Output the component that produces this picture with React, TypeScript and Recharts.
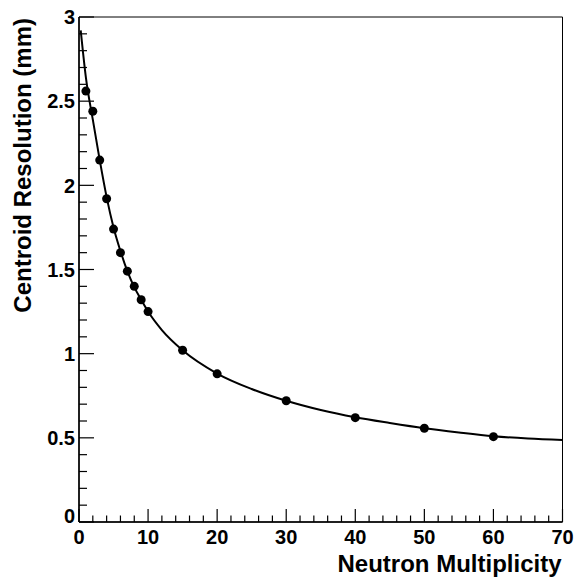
import React from 'react';
import { ComposedChart, Line, Scatter, XAxis, YAxis, ReferenceArea } from 'recharts';

document.body.style.margin = '0';

// measured points
const multiplicity = [1, 2, 3, 4, 5, 6, 7, 8, 9, 10, 15, 20, 30, 40, 50, 60];
const resolution = [2.56, 2.44, 2.15, 1.92, 1.74, 1.6, 1.49, 1.4, 1.32, 1.25, 1.02, 0.88, 0.72, 0.62, 0.557, 0.507];

// fitted curve
const fitX = [0.25, 1, 2, 3, 4, 5, 6, 7, 8, 9, 10, 12, 15, 20, 25, 30, 35, 40, 45, 50, 55, 60, 65, 70];
const fitY = [2.92, 2.64, 2.39, 2.15, 1.93, 1.75, 1.61, 1.49, 1.395, 1.32, 1.25, 1.14, 1.02, 0.882, 0.79, 0.72, 0.665, 0.622, 0.588, 0.557, 0.532, 0.51, 0.496, 0.487];

const xMajorTicks = [0, 10, 20, 30, 40, 50, 60, 70];
const yMajorTicks = [0, 0.5, 1, 1.5, 2, 2.5, 3];

const xTitle = 'Neutron Multiplicity';
const yTitle = 'Centroid Resolution (mm)';

const W = 576;
const H = 579;
const LEFT = 79;
const RIGHT = 562.5;
const TOP = 17;
const BOTTOM = 522;
const FONT = '"Liberation Sans", Arial, Helvetica, sans-serif';

// minor ticks: 5 divisions between x majors, 5 between y majors
const xTicks: number[] = [];
xMajorTicks.forEach((t, i) => {
  if (i === xMajorTicks.length - 1) { xTicks.push(t); return; }
  for (let k = 0; k < 5; k++) xTicks.push(t + k * 2);
});
const yTicks: number[] = [];
yMajorTicks.forEach((t, i) => {
  if (i === yMajorTicks.length - 1) { yTicks.push(t); return; }
  for (let k = 0; k < 5; k++) yTicks.push(Math.round((t + k * 0.1) * 10) / 10);
});

const points = multiplicity.map((x, i) => ({ x, y: resolution[i] }));
const fit = fitX.map((x, i) => ({ x, y: fitY[i] }));

function XTick(props: any) {
  const { x, payload } = props;
  const v = payload.value;
  const major = xMajorTicks.includes(v);
  return (
    <g>
      <line x1={x} x2={x} y1={BOTTOM} y2={BOTTOM - (major ? 13 : 6.5)} stroke="#000" strokeWidth={1.2} />
      {major && (
        <text x={x} y={BOTTOM + 22} textAnchor="middle" fontFamily={FONT} fontWeight="bold" fontSize={20} fill="#000">
          {v}
        </text>
      )}
    </g>
  );
}

function YTick(props: any) {
  const { y, payload } = props;
  const v = payload.value;
  const major = yMajorTicks.includes(v);
  return (
    <g>
      <line x1={LEFT} x2={LEFT + (major ? 15 : 8)} y1={y} y2={y} stroke="#000" strokeWidth={1.2} />
      {major && (
        <text x={LEFT - 4} y={v === 0 ? y - 6 : y} dy="0.36em" textAnchor="end" fontFamily={FONT} fontWeight="bold" fontSize={20} fill="#000">
          {v}
        </text>
      )}
    </g>
  );
}

export default function App() {
  return (
    <div style={{ position: 'relative', width: W, height: H, background: '#fff' }}>
      <ComposedChart width={W} height={H} margin={{ top: TOP, right: W - RIGHT, bottom: 0, left: 0 }}>
        <XAxis
          type="number"
          dataKey="x"
          domain={[0, 70]}
          ticks={xTicks}
          interval={0}
          allowDataOverflow
          height={H - BOTTOM}
          tickLine={false}
          axisLine={{ stroke: '#000', strokeWidth: 1.5 }}
          tick={<XTick />}
        />
        <YAxis
          type="number"
          dataKey="y"
          domain={[0, 3]}
          ticks={yTicks}
          interval={0}
          allowDataOverflow
          width={LEFT}
          tickLine={false}
          axisLine={{ stroke: '#000', strokeWidth: 1.5 }}
          tick={<YTick />}
        />
        <ReferenceArea x1={0} x2={70} y1={0} y2={3} fill="none" stroke="#000" strokeWidth={1} />
        <Line
          data={fit}
          dataKey="y"
          type="monotone"
          stroke="#000"
          strokeWidth={2}
          dot={false}
          activeDot={false}
          isAnimationActive={false}
        />
        <Scatter
          data={points}
          dataKey="y"
          fill="#000"
          shape={(p: any) => <circle cx={p.cx} cy={p.cy} r={4.5} fill="#000" />}
          isAnimationActive={false}
        />
      </ComposedChart>
      <svg width={W} height={H} style={{ position: 'absolute', left: 0, top: 0, pointerEvents: 'none' }}>
        <text x={RIGHT - 1} y={572} textAnchor="end" fontFamily={FONT} fontWeight="bold" fontSize={24} fill="#000">
          {xTitle}
        </text>
        <text
          transform={`translate(31, ${TOP + 1}) rotate(-90)`}
          textAnchor="end"
          fontFamily={FONT}
          fontWeight="bold"
          fontSize={24}
          fill="#000"
        >
          {yTitle}
        </text>
      </svg>
    </div>
  );
}
